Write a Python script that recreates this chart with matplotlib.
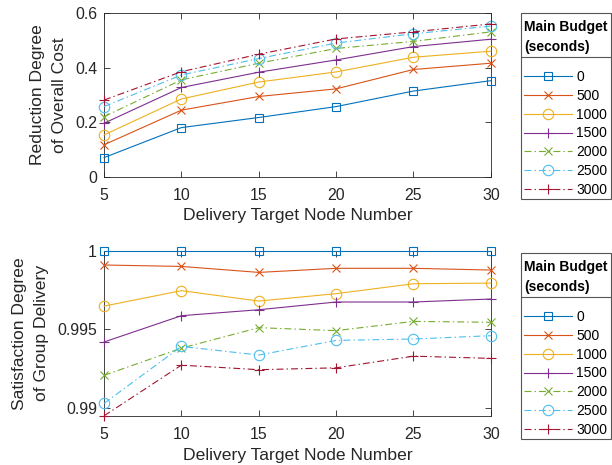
import matplotlib
matplotlib.use("Agg")
import matplotlib.pyplot as plt
from matplotlib.lines import Line2D
from matplotlib.patches import Rectangle

plt.rcParams['font.family'] = ['Liberation Sans', 'DejaVu Sans']
plt.rcParams['lines.scale_dashes'] = False

# data
nodes = [5, 10, 15, 20, 25, 30]
budgets = ['0', '500', '1000', '1500', '2000', '2500', '3000']

cost_0 = [0.070, 0.180, 0.217, 0.257, 0.314, 0.352]
cost_500 = [0.117, 0.244, 0.294, 0.322, 0.393, 0.416]
cost_1000 = [0.153, 0.285, 0.347, 0.384, 0.438, 0.460]
cost_1500 = [0.196, 0.327, 0.383, 0.428, 0.477, 0.504]
cost_2000 = [0.220, 0.355, 0.416, 0.470, 0.496, 0.531]
cost_2500 = [0.257, 0.373, 0.433, 0.490, 0.524, 0.552]
cost_3000 = [0.281, 0.385, 0.449, 0.505, 0.531, 0.560]

sat_0 = [1.0, 1.0, 1.0, 1.0, 1.0, 1.0]
sat_500 = [0.99909, 0.99900, 0.99862, 0.99888, 0.99888, 0.99877]
sat_1000 = [0.99648, 0.99746, 0.99680, 0.99727, 0.99790, 0.99794]
sat_1500 = [0.99420, 0.99587, 0.99625, 0.99674, 0.99674, 0.99693]
sat_2000 = [0.99208, 0.99381, 0.99511, 0.99492, 0.99551, 0.99545]
sat_2500 = [0.99030, 0.99392, 0.99337, 0.99430, 0.99439, 0.99460]
sat_3000 = [0.98951, 0.99273, 0.99244, 0.99256, 0.99330, 0.99316]

cost = [cost_0, cost_500, cost_1000, cost_1500, cost_2000, cost_2500, cost_3000]
sat = [sat_0, sat_500, sat_1000, sat_1500, sat_2000, sat_2500, sat_3000]

colors = ['#0072BD', '#D95319', '#EDB120', '#7E2F8E', '#77AC30', '#4DBEEE', '#A2142F']
markers = ['s', 'x', 'o', '+', 'x', 'o', '+']
msizes = [5.5, 5.5, 7.5, 7, 5.5, 7.5, 7]
solid = [True, True, True, True, False, False, False]
dashdot = (5, 2.2, 1, 2.2)

W, H = 612, 465
fig = plt.figure(figsize=(6.12, 4.65), dpi=100)
ax1 = fig.add_axes([0.170, 0.620, 0.632, 0.352])
ax2 = fig.add_axes([0.170, 0.1054, 0.632, 0.3555])

axc = '#262626'
boxc = '#555555'


def draw(ax, series, ylim, yticks, yticklabels, ylabel, box_top):
    for i, ys in enumerate(series):
        ln, = ax.plot(nodes, ys, color=colors[i], marker=markers[i],
                      markersize=msizes[i], markerfacecolor='none', markeredgewidth=0.8,
                      linewidth=0.8, label=budgets[i], clip_on=False, zorder=3)
        if not solid[i]:
            ln.set_dashes(dashdot)
    ax.set_xlim(5, 30)
    ax.set_ylim(*ylim)
    ax.set_xticks(nodes)
    ax.set_yticks(yticks)
    ax.set_yticklabels(yticklabels)
    ax.tick_params(direction='in', top=True, right=True, labelsize=11.4,
                   colors=axc, length=4, width=0.6)
    ax.tick_params(axis='x', pad=8)
    ax.tick_params(axis='y', pad=5)
    for s in ax.spines.values():
        s.set_color(axc)
        s.set_linewidth(0.6)
    ax.set_xlabel('Delivery Target Node Number', fontsize=12.6, color=axc, labelpad=4)
    ax.set_ylabel(ylabel, fontsize=12.6, color=axc, labelpad=6, linespacing=1.55)

    # legend box drawn by hand (title separated by a rule, like MATLAB)
    x0, x1 = 521 / W, 611 / W
    top = 1 - box_top / H
    bot = 1 - (box_top + 185.7) / H
    sep = 1 - (box_top + 43.4) / H
    fig.add_artist(Rectangle((x0, bot), x1 - x0, top - bot, transform=fig.transFigure,
                             facecolor='white', edgecolor=boxc, linewidth=0.8, zorder=-1))
    fig.add_artist(Line2D([x0, x1], [sep, sep], color=boxc, linewidth=0.8, zorder=-1))
    leg = ax.legend(loc='upper center', bbox_to_anchor=((x0 + x1) / 2, top - 3.5 / H),
                    bbox_transform=fig.transFigure,
                    title='Main Budget\n(seconds)', fontsize=10,
                    title_fontproperties={'weight': 'bold', 'size': 10},
                    handlelength=3.45, handletextpad=0.3, labelspacing=0.34,
                    borderaxespad=0, borderpad=0.2, frameon=False)
    leg.get_title().set_linespacing(1.55)
    leg._legend_box.align = 'center'
    leg._legend_box.sep = 12
    return leg


draw(ax1, cost, (0, 0.6), [0, 0.2, 0.4, 0.6], ['0', '0.2', '0.4', '0.6'],
     'Reduction Degree\nof Overall Cost', 13.3)
draw(ax2, sat, (0.9895, 1.0), [0.99, 0.995, 1.0], ['0.99', '0.995', '1'],
     'Satisfaction Degree\nof Group Delivery', 253.3)

fig.savefig('out.png', dpi=100, facecolor='white')
